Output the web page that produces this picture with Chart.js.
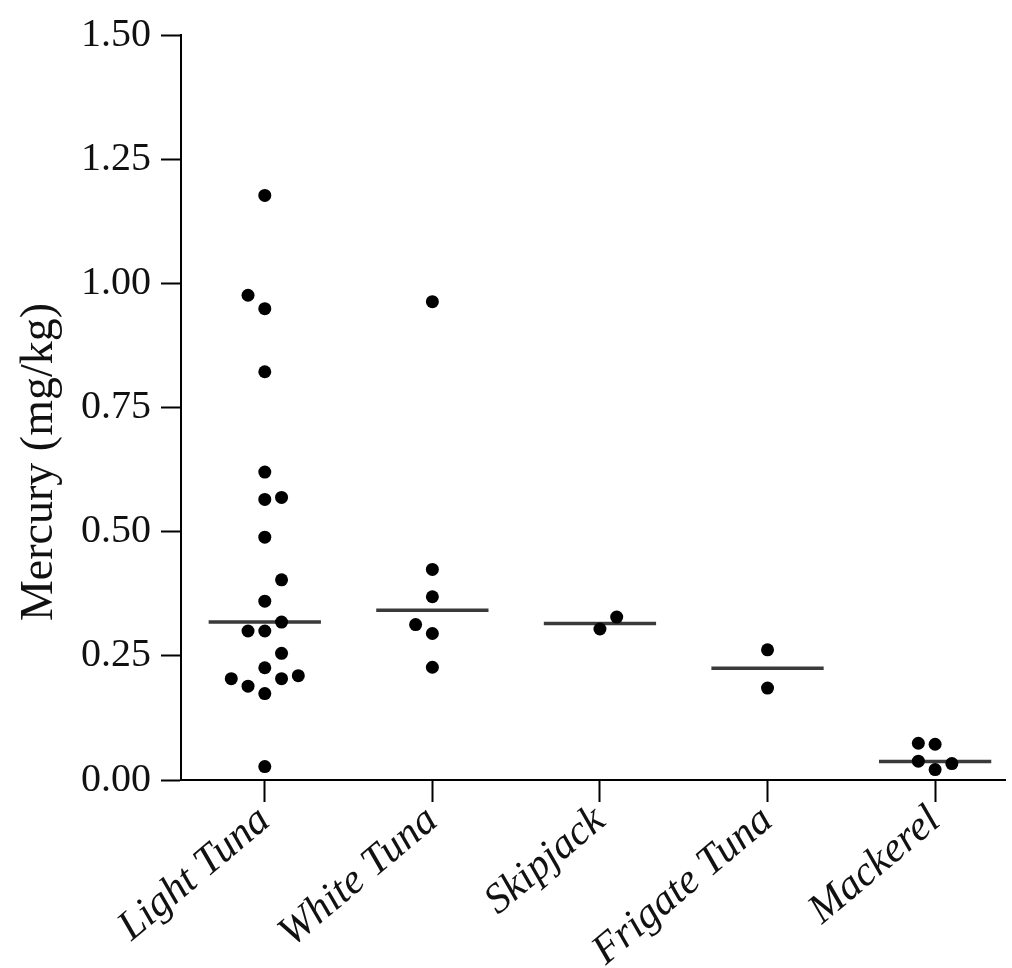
<!DOCTYPE html>
<html>
<head>
<meta charset="utf-8">
<script src="https://cdn.jsdelivr.net/npm/chart.js@4/dist/chart.umd.min.js"></script>
<style>
  html, body { margin: 0; padding: 0; background: #fff; }
  #wrap { width: 1012px; height: 968px; }
</style>
</head>
<body>
<div id="wrap"><canvas id="mercuryChart" width="1012" height="968"></canvas></div>
<script>
// categories and values
var categories = ["Light Tuna", "White Tuna", "Skipjack", "Frigate Tuna", "Mackerel"];

var lightTuna = [1.177, 0.976, 0.949, 0.822, 0.620, 0.565, 0.569, 0.489, 0.403, 0.360, 0.300, 0.300, 0.318, 0.255, 0.226, 0.204, 0.189, 0.174, 0.204, 0.210, 0.027];
var whiteTuna = [0.963, 0.424, 0.369, 0.313, 0.295, 0.227];
var skipjack = [0.304, 0.328];
var frigateTuna = [0.262, 0.185];
var mackerel = [0.074, 0.072, 0.038, 0.021, 0.033];

var medians = [0.318, 0.342, 0.315, 0.225, 0.037];

var yTicks = [0, 0.25, 0.5, 0.75, 1.0, 1.25, 1.5];
var yTitle = 'Mercury (mg/kg)';

// horizontal spread of the dots (category units)
var jitter = [
    [0, -0.1, 0, 0, 0, 0, 0.1, 0, 0.1, 0, -0.1, 0, 0.1, 0.1, 0, -0.2, -0.1, 0, 0.1, 0.2, 0],
    [0, 0, 0, -0.1, 0, 0],
    [0, 0.1],
    [0, 0],
    [-0.1, 0, -0.1, 0, 0.1]
];

var groups = [lightTuna, whiteTuna, skipjack, frigateTuna, mackerel];

var points = [];
groups.forEach(function (vals, i) {
    vals.forEach(function (v, j) {
        points.push({ x: i + jitter[i][j], y: v });
    });
});

var halfWidth = 0.335;
var medianSegments = [];
medians.forEach(function (m, i) {
    medianSegments.push({ x: i - halfWidth, y: m });
    medianSegments.push({ x: i + halfWidth, y: m });
    medianSegments.push({ x: i + 0.5, y: null });
});

var serif = "'Liberation Serif', 'Times New Roman', serif";

// y title sits a bit below the middle of the axis in the original
var yTitlePlugin = {
    id: 'yTitle',
    afterDraw: function (chart) {
        var ctx = chart.ctx;
        ctx.save();
        ctx.translate(40, 462);
        ctx.rotate(-Math.PI / 2);
        ctx.font = "46px " + serif;
        ctx.fillStyle = '#111';
        ctx.textAlign = 'center';
        ctx.textBaseline = 'middle';
        ctx.fillText(yTitle, 0, 0);
        ctx.restore();
    }
};

new Chart(document.getElementById("mercuryChart"), {
    type: 'scatter',
    data: {
        datasets: [
            {
                type: 'line',
                data: medianSegments,
                borderColor: '#3a3a3a',
                borderWidth: 3.5,
                pointRadius: 0,
                spanGaps: false,
                order: 2
            },
            {
                data: points,
                backgroundColor: '#000',
                borderColor: '#000',
                pointRadius: 6.5,
                pointBorderWidth: 0,
                order: 1
            }
        ]
    },
    plugins: [yTitlePlugin],
    options: {
        responsive: false,
        animation: false,
        layout: { padding: { left: 0, right: 2, top: 35, bottom: 0 } },
        plugins: {
            legend: { display: false },
            tooltip: { enabled: false }
        },
        scales: {
            x: {
                type: 'linear',
                min: -0.5,
                max: 4.42,
                afterBuildTicks: function (scale) {
                    scale.ticks = categories.map(function (c, i) { return { value: i }; });
                },
                afterFit: function (scale) { scale.height = 188; },
                ticks: {
                    autoSkip: false,
                    minRotation: 40,
                    maxRotation: 40,
                    padding: -6,
                    color: '#111',
                    font: { family: serif, size: 42, style: 'italic' },
                    callback: function (v) { return categories[v]; }
                },
                grid: {
                    drawOnChartArea: false,
                    drawTicks: true,
                    tickLength: 22,
                    tickWidth: 2,
                    tickColor: '#000'
                },
                border: { color: '#000', width: 2 }
            },
            y: {
                min: 0,
                max: 1.5,
                afterBuildTicks: function (scale) {
                    scale.ticks = yTicks.map(function (v) { return { value: v }; });
                },
                afterFit: function (scale) { scale.width = 181; },
                ticks: {
                    padding: 10,
                    color: '#111',
                    font: { family: serif, size: 40 },
                    callback: function (v) { return Number(v).toFixed(2); }
                },
                grid: {
                    drawOnChartArea: false,
                    drawTicks: true,
                    tickLength: 20,
                    tickWidth: 2,
                    tickColor: '#000'
                },
                border: { color: '#000', width: 2 },
                title: { display: false }
            }
        }
    }
});
</script>
</body>
</html>
